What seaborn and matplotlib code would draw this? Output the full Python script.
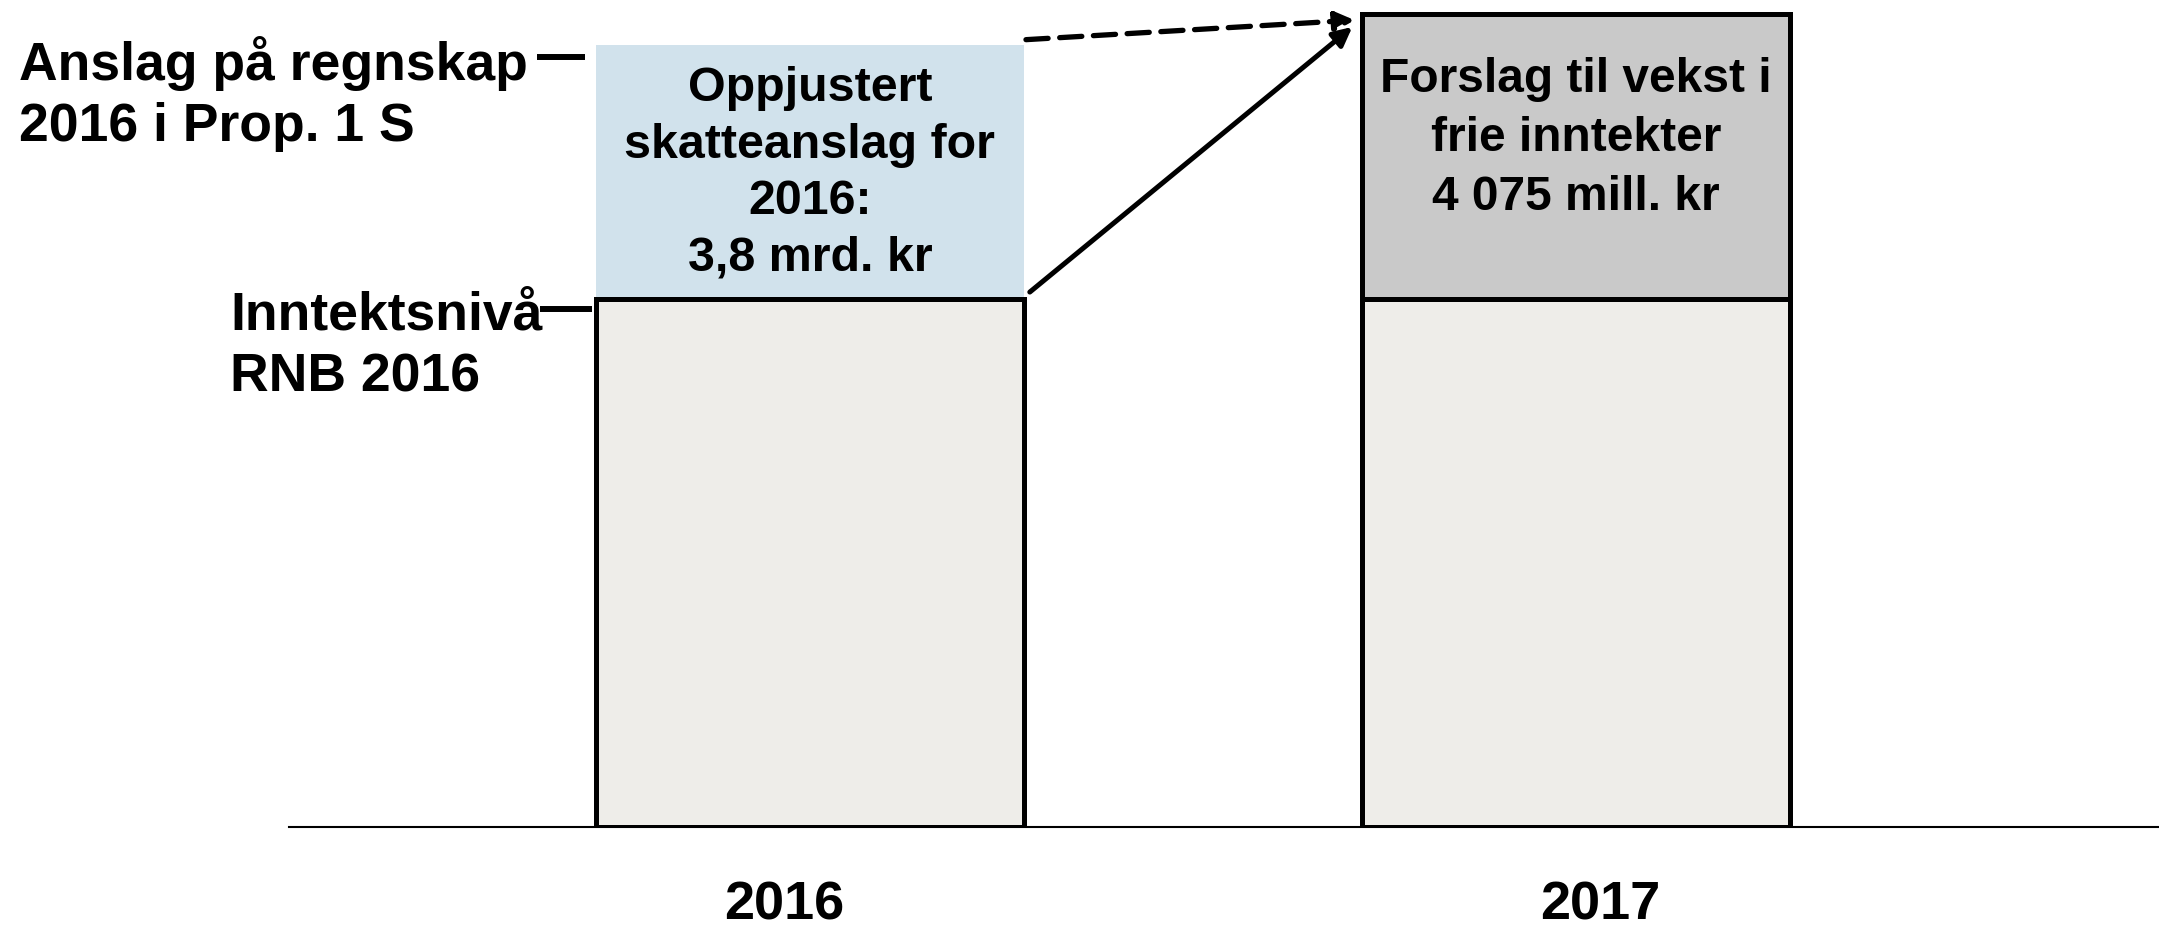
import matplotlib
matplotlib.use("Agg")
import matplotlib.pyplot as plt
import seaborn as sns
import pandas as pd

# ---- data (schematic units) ----
years = ["2016", "2017"]
base_level = [100, 100]          # Inntektsnivå RNB 2016
top_segment = [48, 54]           # oppjustert skatteanslag / forslag til vekst
top_labels = ["Oppjustert\nskatteanslag for\n2016:\n3,8 mrd. kr",
              "Forslag til vekst i\nfrie inntekter\n4 075 mill. kr"]
left_labels = ["Anslag på regnskap\n2016 i Prop. 1 S", "Inntektsnivå\nRNB 2016"]

base_color = "#EEEDE9"
top_colors = ["#D1E2EC", "#C9C9C9"]
top_edges = ["none", "black"]

sns.set_theme(style="white")
plt.rcParams["font.family"] = ["Liberation Sans", "DejaVu Sans"]
plt.rcParams["font.weight"] = "bold"
plt.rcParams["text.color"] = "black"

fig = plt.figure(figsize=(21.59, 9.28), dpi=100)
ax = fig.add_axes([289 / 2159, 100 / 928, 1 - 289 / 2159, 828 / 928])

df = pd.DataFrame({"year": years, "base": base_level})
bw = 0.559
sns.barplot(data=df, x="year", y="base", color=base_color, saturation=1,
            edgecolor="black", linewidth=3.6, width=bw, ax=ax)
for p in ax.patches:
    p.set_zorder(3)

ax.bar(range(len(years)), top_segment, bottom=base_level, width=bw,
       color=top_colors, edgecolor=top_edges, linewidth=3.6, zorder=2)

ax.set_xlim(-0.680, 1.761)
ax.set_ylim(0, 156.8)
ax.set_xlabel("")
ax.set_ylabel("")
ax.set_xticks([])
ax.set_yticks([])
for s in ["left", "right", "top"]:
    ax.spines[s].set_visible(False)
ax.spines["bottom"].set_linewidth(1.5)
ax.spines["bottom"].set_color("black")
ax.spines["bottom"].set_zorder(1)

# text inside segments
ax.text(0, base_level[0] + top_segment[0] / 2, top_labels[0], ha="center", va="center",
        fontsize=34.8, fontweight="bold", linespacing=1.32, zorder=5)
ax.text(1, 130.5, top_labels[1], ha="center", va="center",
        fontsize=34.5, fontweight="bold", linespacing=1.4, zorder=5)

# year labels
for i, y in enumerate(years):
    ax.text(i + (-0.033 if i == 0 else 0.031), -14.6, y, ha="center", va="center",
            fontsize=39, fontweight="bold", clip_on=False)

# left labels with leader dashes
top_total0 = base_level[0] + top_segment[0]
ax.text(-1.033, 139.0, left_labels[0], ha="left", va="center", fontsize=38.5,
        fontweight="bold", linespacing=1.27, clip_on=False)
ax.plot([-0.356, -0.294], [top_total0 - 2.2, top_total0 - 2.2], color="black", lw=4.3,
        clip_on=False, solid_capstyle="butt")
ax.text(-0.757, 91.2, left_labels[1], ha="left", va="center", fontsize=38.5,
        fontweight="bold", linespacing=1.3, clip_on=False)
ax.plot([-0.352, -0.285], [base_level[0] - 1.9, base_level[0] - 1.9], color="black", lw=4.3,
        clip_on=False, solid_capstyle="butt")

# arrows
ax.annotate("", xy=(0.711, 152.8), xytext=(0.282, 149.1),
            arrowprops=dict(arrowstyle="-|>", color="black", lw=3.8,
                            linestyle=(0, (4.2, 2.2)), mutation_scale=28,
                            shrinkA=0, shrinkB=0),
            annotation_clip=False, zorder=6)
ax.annotate("", xy=(0.708, 151.5), xytext=(0.287, 101.3),
            arrowprops=dict(arrowstyle="-|>", color="black", lw=3.6,
                            mutation_scale=28, shrinkA=0, shrinkB=0),
            annotation_clip=False, zorder=6)

fig.savefig("out.png", dpi=100)
